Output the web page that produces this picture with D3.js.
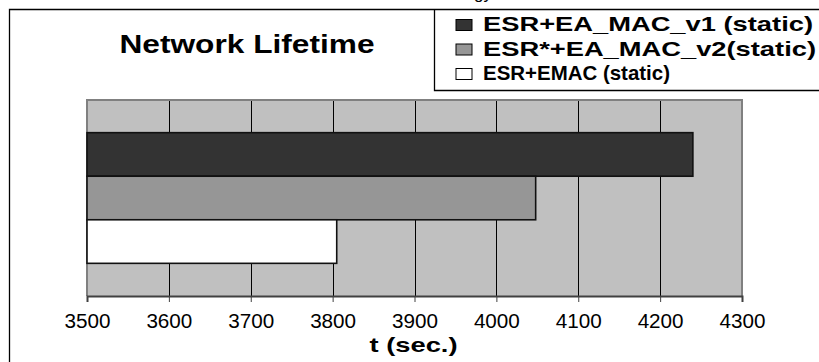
<!DOCTYPE html>
<html>
<head>
<meta charset="utf-8">
<script src="https://cdn.jsdelivr.net/npm/d3@7/dist/d3.min.js"></script>
<style>
  html, body { margin: 0; padding: 0; background: #fff; }
  svg { display: block; }
  text { font-family: "Liberation Sans", Arial, sans-serif; }
</style>
</head>
<body>
<div id="chart"></div>
<script>
// ---- data ----
const series = ["ESR+EA_MAC_v1 (static)", "ESR*+EA_MAC_v2(static)", "ESR+EMAC (static)"];
const values = [4240, 4048, 3805];
const colors = ["#333333", "#969696", "#ffffff"];
const xTicks = [3500, 3600, 3700, 3800, 3900, 4000, 4100, 4200, 4300];
const title = "Network Lifetime";
const xTitle = "t (sec.)";

// ---- layout ----
const W = 819, H = 362;
const plot = { left: 87, right: 742, top: 100, bottom: 296 };

const svg = d3.select("#chart").append("svg")
  .attr("width", W).attr("height", H);

// outer frame (continues past right/bottom edge)
svg.append("path")
  .attr("d", `M9.5,${H + 5} V9.5 H${W + 5}`)
  .attr("fill", "none").attr("stroke", "#000").attr("stroke-width", 1.3);

// cut-off caption fragment from above
svg.append("text").attr("x", 474).attr("y", -1)
  .attr("font-size", 17).attr("fill", "#000").text("gy");

const x = d3.scaleLinear().domain([xTicks[0], xTicks[xTicks.length - 1]])
  .range([plot.left, plot.right]);
const y = d3.scaleBand().domain(series)
  .range([plot.top, plot.bottom]).paddingInner(0).paddingOuter(0.75);

// plot background
svg.append("rect")
  .attr("x", plot.left).attr("y", plot.top)
  .attr("width", plot.right - plot.left).attr("height", plot.bottom - plot.top)
  .attr("fill", "#c0c0c0");

// vertical gridlines
svg.append("g").selectAll("line").data(xTicks.slice(1, -1)).join("line")
  .attr("x1", d => Math.round(x(d)) + 0.5).attr("x2", d => Math.round(x(d)) + 0.5)
  .attr("y1", plot.top).attr("y2", plot.bottom)
  .attr("stroke", "#000").attr("stroke-width", 1);

// plot border (top/left/right)
svg.append("path")
  .attr("d", `M${plot.left},${plot.bottom} V${plot.top} H${plot.right} V${plot.bottom}`)
  .attr("fill", "none").attr("stroke", "#808080").attr("stroke-width", 2);

// bars
svg.append("g").selectAll("rect").data(series).join("rect")
  .attr("x", x(xTicks[0]))
  .attr("y", d => y(d))
  .attr("width", (d, i) => x(values[i]) - x(xTicks[0]))
  .attr("height", y.bandwidth())
  .attr("fill", (d, i) => colors[i])
  .attr("stroke", "#111").attr("stroke-width", 1.6);

// x axis
const axis = d3.axisBottom(x).tickValues(xTicks).tickSize(6).tickPadding(12)
  .tickFormat(d3.format("d"));
const gx = svg.append("g").attr("transform", `translate(0,${plot.bottom})`).call(axis);
gx.select(".domain").attr("stroke", "#404040").attr("stroke-width", 2);
gx.selectAll(".tick line").attr("stroke", "#404040");
gx.selectAll(".tick text")
  .attr("font-family", "'Liberation Sans', Arial, sans-serif")
  .attr("font-size", 19.5).attr("fill", "#000")
  .attr("textLength", 46).attr("lengthAdjust", "spacingAndGlyphs");

// axis title
svg.append("text").attr("x", (plot.left + plot.right) / 2 - 1).attr("y", 352)
  .attr("text-anchor", "middle").attr("font-weight", "bold").attr("font-size", 20.5)
  .attr("textLength", 88).attr("lengthAdjust", "spacingAndGlyphs")
  .text(xTitle);

// chart title
svg.append("text").attr("x", 247).attr("y", 53)
  .attr("text-anchor", "middle").attr("font-weight", "bold").attr("font-size", 25)
  .attr("textLength", 255).attr("lengthAdjust", "spacingAndGlyphs")
  .text(title);

// legend
svg.append("path")
  .attr("d", `M${W + 5},90.5 H434.5 V9.5`)
  .attr("fill", "none").attr("stroke", "#000").attr("stroke-width", 1.3);
const legendWidths = [330, 333, 187];
const lg = svg.append("g").selectAll("g").data(series).join("g")
  .attr("transform", (d, i) => `translate(0,${31 + i * 24.5})`);
lg.append("rect").attr("x", 456).attr("y", -11.5).attr("width", 16).attr("height", 11)
  .attr("fill", (d, i) => colors[i]).attr("stroke", "#000").attr("stroke-width", 1);
lg.append("text").attr("x", 483).attr("y", 0)
  .attr("font-weight", "bold").attr("font-size", 20.5)
  .attr("textLength", (d, i) => legendWidths[i]).attr("lengthAdjust", "spacingAndGlyphs")
  .text(d => d);
</script>
</body>
</html>
